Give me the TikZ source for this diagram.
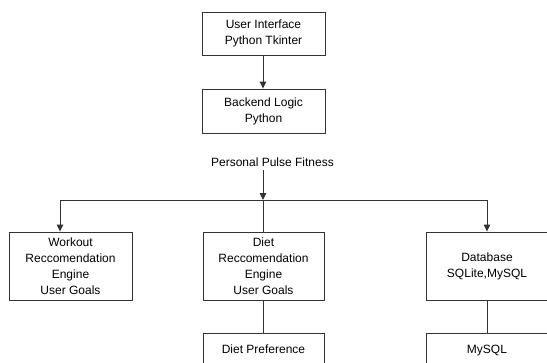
\documentclass[tikz,border=0pt]{standalone}
\usepackage{fontspec}
\setmainfont{Liberation Sans}
\usetikzlibrary{arrows.meta}
\begin{document}
\begin{tikzpicture}[x=1pt,y=-1pt,
  box/.style={draw=black!80, line width=0.9pt, fill=white, align=center, inner sep=0pt, font=\fontsize{12}{16}\selectfont},
  lbl/.style={inner sep=0pt, font=\fontsize{12}{16}\selectfont},
  conn/.style={draw=black!80, line width=0.9pt},
  arr/.style={conn, -{Triangle[length=7pt,width=6.5pt]}}]
\useasboundingbox (0,0) rectangle (547,362);
\clip (0,0) rectangle (547,362);
\fill[white] (0,0) rectangle (547,362);
% top boxes
\node[box, minimum width=123pt, minimum height=43pt] (ui) at (263.5,33.5) {User Interface\\Python Tkinter};
\node[box, minimum width=123pt, minimum height=44pt] (be) at (263.5,111) {Backend Logic\\Python};
\node[lbl] (ppf) at (272.5,162) {Personal Pulse Fitness};
% middle row
\node[box, minimum width=123pt, minimum height=68pt] (wo) at (70.5,266) {Workout\\Reccomendation\\Engine\\User Goals};
\node[box, minimum width=121pt, minimum height=68pt] (diet) at (263.5,266) {Diet\\Reccomendation\\Engine\\User Goals};
\node[box, minimum width=122pt, minimum height=68pt] (db) at (487,266) {Database\\SQLite,MySQL};
% bottom row
\node[box, anchor=north, minimum width=121pt, text height=20pt, text depth=40pt] (dp) at (263.5,333) {Diet Preference};
\node[box, anchor=north, minimum width=122pt, text height=20pt, text depth=40pt] (my) at (487,333) {MySQL};
% junctions
\coordinate (top) at (263,170);
\coordinate (j) at (263,200);
\coordinate (jl) at (60,200);
\coordinate (jr) at (487,200);
% connectors
\draw[arr] (ui.south -| 263,0) -- (be.north -| 263,0);
\draw[arr] (top) -- (j);
\draw[conn] (jl) -- (jr);
\draw[arr] (jl) -- (jl |- wo.north);
\draw[arr] (jr) -- (jr |- db.north);
\draw[conn] (j) -- (j |- diet.north);
\draw[conn] (diet.south -| 263,0) -- (dp.north -| 263,0);
\draw[conn] (db.south) -- (my.north);
\end{tikzpicture}
\end{document}
